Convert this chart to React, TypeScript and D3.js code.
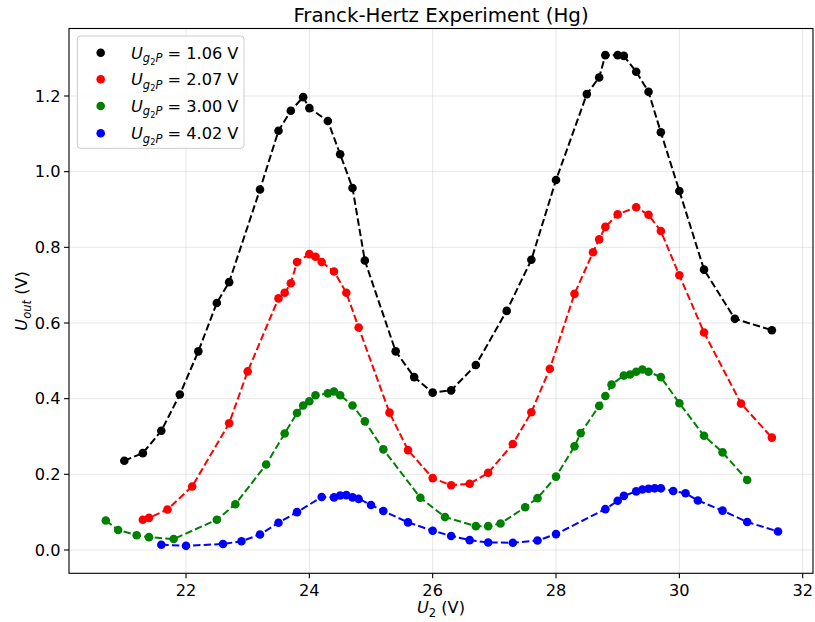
import React from "react";
import * as d3 from "d3";

const blackX = [21.0, 21.3, 21.6, 21.9, 22.2, 22.5, 22.7, 23.2, 23.5, 23.7, 23.9, 24.0, 24.3, 24.5, 24.7, 24.9, 25.4, 25.7, 26.0, 26.3, 26.7, 27.2, 27.6, 28.0, 28.5, 28.7, 28.8, 29.0, 29.1, 29.3, 29.5, 29.7, 30.0, 30.4, 30.9, 31.5];
const blackY = [0.236, 0.256, 0.315, 0.411, 0.525, 0.653, 0.708, 0.953, 1.108, 1.161, 1.197, 1.168, 1.134, 1.046, 0.957, 0.765, 0.525, 0.457, 0.416, 0.422, 0.489, 0.632, 0.767, 0.978, 1.205, 1.249, 1.308, 1.308, 1.306, 1.264, 1.211, 1.104, 0.949, 0.741, 0.611, 0.581];

const redX = [21.3, 21.4, 21.7, 22.1, 22.7, 23.0, 23.5, 23.6, 23.7, 23.8, 24.0, 24.1, 24.2, 24.4, 24.6, 24.8, 25.3, 25.6, 26.0, 26.3, 26.6, 26.9, 27.3, 27.6, 27.9, 28.3, 28.6, 28.7, 28.8, 29.0, 29.3, 29.5, 29.7, 30.0, 30.4, 31.0, 31.5];
const redY = [0.080, 0.085, 0.107, 0.168, 0.335, 0.472, 0.665, 0.680, 0.705, 0.761, 0.782, 0.775, 0.761, 0.736, 0.680, 0.588, 0.363, 0.264, 0.190, 0.171, 0.175, 0.204, 0.280, 0.364, 0.479, 0.677, 0.787, 0.821, 0.854, 0.887, 0.906, 0.886, 0.843, 0.726, 0.575, 0.387, 0.297];

const greenX = [20.7, 20.9, 21.2, 21.4, 21.8, 22.5, 22.8, 23.3, 23.6, 23.8, 23.9, 24.0, 24.1, 24.3, 24.4, 24.5, 24.7, 24.9, 25.2, 25.8, 26.2, 26.7, 26.9, 27.1, 27.5, 27.7, 28.0, 28.3, 28.4, 28.7, 28.8, 28.9, 29.1, 29.2, 29.3, 29.4, 29.5, 29.7, 30.0, 30.4, 30.7, 31.1];
const greenY = [0.078, 0.053, 0.039, 0.034, 0.029, 0.080, 0.121, 0.226, 0.308, 0.362, 0.382, 0.393, 0.409, 0.414, 0.419, 0.409, 0.382, 0.340, 0.266, 0.138, 0.087, 0.063, 0.063, 0.070, 0.113, 0.137, 0.194, 0.274, 0.309, 0.381, 0.407, 0.437, 0.461, 0.464, 0.471, 0.477, 0.471, 0.457, 0.388, 0.302, 0.258, 0.185];

const blueX = [21.6, 22.0, 22.6, 22.9, 23.2, 23.5, 23.8, 24.2, 24.4, 24.5, 24.6, 24.7, 24.8, 25.0, 25.2, 25.6, 26.0, 26.3, 26.6, 26.9, 27.3, 27.7, 28.0, 28.8, 29.0, 29.1, 29.3, 29.4, 29.5, 29.6, 29.7, 29.9, 30.1, 30.3, 30.7, 31.1, 31.6];
const blueY = [0.014, 0.011, 0.016, 0.023, 0.041, 0.072, 0.100, 0.140, 0.139, 0.144, 0.145, 0.139, 0.135, 0.119, 0.103, 0.073, 0.051, 0.037, 0.026, 0.020, 0.019, 0.025, 0.042, 0.108, 0.130, 0.143, 0.155, 0.160, 0.162, 0.163, 0.163, 0.156, 0.150, 0.131, 0.104, 0.074, 0.049];

const seriesLabels = ["1.06", "2.07", "3.00", "4.02"];
const seriesColors = ["#000000", "#ff0000", "#008000", "#0000ff"];
const xTicks = [22, 24, 26, 28, 30, 32];
const yTicks = [0.0, 0.2, 0.4, 0.6, 0.8, 1.0, 1.2];

const W = 815;
const H = 622;
const left = 69;
const right = 813;
const top = 28.5;
const bottom = 573.3;

const FONT = "DejaVu Sans, sans-serif";
const FS = 16.2;
const SUB = 11.5;

export default function App() {
  const x = d3.scaleLinear().domain([20.103, 32.167]).range([left, right]);
  const y = d3.scaleLinear().domain([-0.0616, 1.3784]).range([bottom, top]);

  const series = [
    { xs: blackX, ys: blackY },
    { xs: redX, ys: redY },
    { xs: greenX, ys: greenY },
    { xs: blueX, ys: blueY },
  ].map((s, i) => ({
    pts: s.xs.map((v, j) => [v, s.ys[j]] as [number, number]),
    color: seriesColors[i],
    label: seriesLabels[i],
  }));

  const line = d3
    .line<[number, number]>()
    .x((d) => x(d[0]))
    .y((d) => y(d[1]));

  const legendRows = [52.7, 79.3, 106, 133.3];

  return (
    <svg
      width={W}
      height={H}
      style={{ position: "absolute", left: 0, top: 0, background: "#fff" }}
      fontFamily={FONT}
    >
      <rect x={0} y={0} width={W} height={H} fill="#fff" />
      {xTicks.map((t) => (
        <line key={"gx" + t} x1={x(t)} x2={x(t)} y1={top} y2={bottom} stroke="#b0b0b0" strokeOpacity={0.3} strokeWidth={1} />
      ))}
      {yTicks.map((t) => (
        <line key={"gy" + t} x1={left} x2={right} y1={y(t)} y2={y(t)} stroke="#b0b0b0" strokeOpacity={0.3} strokeWidth={1} />
      ))}
      <defs>
        <clipPath id="plotclip">
          <rect x={left} y={top} width={right - left} height={bottom - top} />
        </clipPath>
      </defs>
      <g clipPath="url(#plotclip)">
        {series.map((s, i) => (
          <g key={"s" + i}>
            <path d={line(s.pts) || ""} fill="none" stroke={s.color} strokeWidth={2} strokeDasharray="7.4,3.2" />
            {s.pts.map((p, j) => (
              <circle key={j} cx={x(p[0])} cy={y(p[1])} r={4.3} fill={s.color} />
            ))}
          </g>
        ))}
      </g>
      <rect x={left} y={top} width={right - left} height={bottom - top} fill="none" stroke="#000" strokeWidth={1.1} />
      {xTicks.map((t) => (
        <g key={"tx" + t}>
          <line x1={x(t)} x2={x(t)} y1={bottom} y2={bottom + 5} stroke="#000" strokeWidth={1.1} />
          <text x={x(t)} y={bottom + 23} textAnchor="middle" fontSize={FS} fill="#000">
            {t}
          </text>
        </g>
      ))}
      {yTicks.map((t) => (
        <g key={"ty" + t}>
          <line x1={left - 5} x2={left} y1={y(t)} y2={y(t)} stroke="#000" strokeWidth={1.1} />
          <text x={left - 8.5} y={y(t)} dy="0.36em" textAnchor="end" fontSize={FS} fill="#000">
            {t.toFixed(1)}
          </text>
        </g>
      ))}
      <text x={(left + right) / 2} y={22} textAnchor="middle" fontSize={19.8} fill="#000">
        Franck-Hertz Experiment (Hg)
      </text>
      <text x={(left + right) / 2} y={613} textAnchor="middle" fontSize={FS} fill="#000">
        <tspan fontStyle="italic">U</tspan>
        <tspan fontSize={SUB} dy={3.5}>2</tspan>
        <tspan dy={-3.5}> (V)</tspan>
      </text>
      <text transform={`translate(27,${(top + bottom) / 2}) rotate(-90)`} textAnchor="middle" fontSize={FS} fill="#000">
        <tspan fontStyle="italic">U</tspan>
        <tspan fontStyle="italic" fontSize={SUB} dy={3.5}>out</tspan>
        <tspan dy={-3.5}> (V)</tspan>
      </text>
      <rect x={77.3} y={36} width={166.7} height={112.3} rx={3} ry={3} fill="#fff" fillOpacity={0.8} stroke="#cccccc" strokeWidth={1} />
      {series.map((s, i) => (
        <g key={"lg" + i}>
          <circle cx={100.7} cy={legendRows[i]} r={4.3} fill={s.color} />
          <text x={131} y={legendRows[i]} dy="0.36em" fontSize={FS} fill="#000">
            <tspan fontStyle="italic">U</tspan>
            <tspan fontStyle="italic" fontSize={SUB} dy={3.5}>g</tspan>
            <tspan fontSize={8.2} dy={2.5}>2</tspan>
            <tspan fontStyle="italic" fontSize={SUB} dy={-2.5}>P</tspan>
            <tspan dy={-3.5}>{" = " + s.label + " V"}</tspan>
          </text>
        </g>
      ))}
    </svg>
  );
}
